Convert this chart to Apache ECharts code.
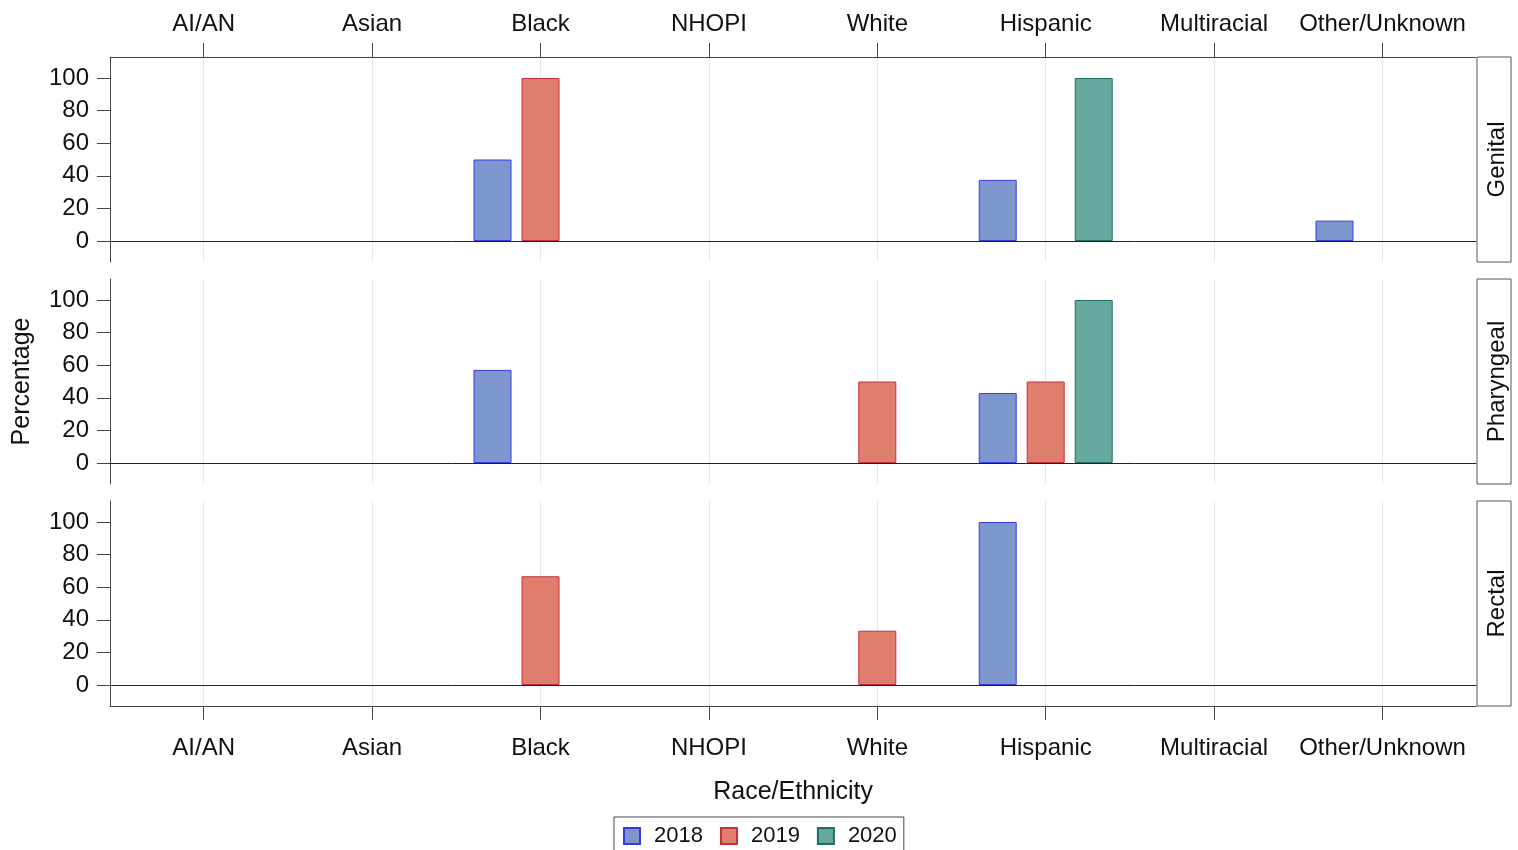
<!DOCTYPE html>
<html>
<head>
<meta charset="utf-8">
<script src="https://cdn.jsdelivr.net/npm/echarts@6/dist/echarts.min.js"></script>
<style>
html,body{margin:0;padding:0;background:#fff;}
#chart{width:1518px;height:850px;}
</style>
</head>
<body>
<div id="chart"></div>
<script>
// ---- data ----
const categories = ['AI/AN','Asian','Black','NHOPI','White','Hispanic','Multiracial','Other/Unknown'];
const years = ['2018','2019','2020'];
const panels = ['Genital','Pharyngeal','Rectal'];
const yTicks = [0,20,40,60,80,100];

const genital2018    = [null,null,50,  null,null,37.5,null,12.5];
const genital2019    = [null,null,100, null,null,null,null,null];
const genital2020    = [null,null,null,null,null,100, null,null];
const pharyngeal2018 = [null,null,57.1,null,null,42.9,null,null];
const pharyngeal2019 = [null,null,null,null,50,  50,  null,null];
const pharyngeal2020 = [null,null,null,null,null,100, null,null];
const rectal2018     = [null,null,null,null,null,100, null,null];
const rectal2019     = [null,null,66.7,null,33.3,null,null,null];
const rectal2020     = [null,null,null,null,null,null,null,null];

const panelData = [
  [genital2018, genital2019, genital2020],
  [pharyngeal2018, pharyngeal2019, pharyngeal2020],
  [rectal2018, rectal2019, rectal2020]
];

// ---- styles ----
const FONT = "'Liberation Sans', Arial, sans-serif";
const fills   = ['#7D96CD','#E07E6E','#66A8A0'];
const borders = ['#3A3ADB','#C0303C','#1E6E62'];
const YMIN = -12.88, YMAX = 112.88;
const panelTop = [57, 279, 501];
const panelH = 205;
const AXIS = '#444';

const grid = [];
const xAxis = [];
const yAxis = [];
const series = [];

// frame grids 0..2
for (let p = 0; p < 3; p++) {
  grid.push({left:110, right:42, top:panelTop[p], height:panelH});
}
// bar grids 3..5
for (let p = 0; p < 3; p++) {
  grid.push({left:119.5, right:51.3, top:panelTop[p], height:panelH});
}
// strip grids 6..8
for (let p = 0; p < 3; p++) {
  grid.push({left:1477, width:34, top:panelTop[p], height:panelH, show:true,
             borderColor:'#555', borderWidth:1, backgroundColor:'#fff'});
}

const hiddenValueX = (gi, pos, onZero, color, zl) => ({
  gridIndex:gi, type:'value', min:0, max:1, position:pos, zlevel:zl, z:10,
  axisLine:{show:true, onZero:onZero, lineStyle:{color:color, width:1}},
  axisTick:{show:false}, axisLabel:{show:false}, splitLine:{show:false}
});

// x axes 0..2 : zero lines (drawn above bars)
for (let p = 0; p < 3; p++) {
  xAxis.push(hiddenValueX(p, p === 2 ? 'top' : 'bottom', true, '#222', 1));
}
// x axis 3 : top border panel 1 ; x axis 4 : bottom border panel 3
xAxis.push(hiddenValueX(0, 'top', false, AXIS, 0));
xAxis.push(hiddenValueX(2, 'bottom', false, AXIS, 0));
// x axes 5..7 : category axes for bars
for (let p = 0; p < 3; p++) {
  const showLab = p !== 1;
  const ax = {
    gridIndex:3+p, type:'category', data:categories,
    position: p === 0 ? 'top' : 'bottom',
    axisLine:{show:showLab, onZero:false, lineStyle:{color:AXIS, width:1}},
    axisTick:{show:showLab, alignWithLabel:true, length:14, lineStyle:{color:AXIS}},
    axisLabel:{show:showLab, interval:0, fontSize:24, fontFamily:FONT, color:'#111',
               margin: p === 0 ? 21 : 30},
    splitLine:{show:false}
  };
  if (p === 2) {
    ax.name = 'Race/Ethnicity';
    ax.nameLocation = 'middle';
    ax.nameGap = 74;
    ax.nameTextStyle = {fontSize:25, fontFamily:FONT, color:'#111'};
  }
  xAxis.push(ax);
}
// x axes 8..10 : strip grids
for (let p = 0; p < 3; p++) {
  xAxis.push({gridIndex:6+p, type:'value', show:false});
}

// y axes 0..2 : frame
for (let p = 0; p < 3; p++) {
  const ax = {
    gridIndex:p, type:'value', min:YMIN, max:YMAX,
    axisLine:{show:true, onZero:false, lineStyle:{color:AXIS, width:1}},
    axisTick:{show:true, length:13, customValues:yTicks, lineStyle:{color:AXIS}},
    axisLabel:{show:true, customValues:yTicks, fontSize:24, fontFamily:FONT, color:'#111', margin:21},
    splitLine:{show:false}
  };
  if (p === 1) {
    ax.name = 'Percentage';
    ax.nameLocation = 'middle';
    ax.nameGap = 75;
    ax.nameRotate = 90;
    ax.nameTextStyle = {fontSize:25, fontFamily:FONT, color:'#111'};
  }
  yAxis.push(ax);
}
// y axes 3..5 : bars
for (let p = 0; p < 3; p++) {
  yAxis.push({gridIndex:3+p, type:'value', min:YMIN, max:YMAX, show:false});
}
// y axes 6..8 : strip labels
for (let p = 0; p < 3; p++) {
  yAxis.push({
    gridIndex:6+p, type:'value', position:'left',
    axisLine:{show:false}, axisTick:{show:false}, axisLabel:{show:false}, splitLine:{show:false},
    name:panels[p], nameLocation:'middle', nameRotate:90, nameGap:-32,
    nameTextStyle:{fontSize:24, fontFamily:FONT, color:'#111'}
  });
}

// series
for (let p = 0; p < 3; p++) {
  // vertical reference lines at category centres (behind the bars)
  series.push({
    type:'line', xAxisIndex:5+p, yAxisIndex:3+p, data:[], z:1, silent:true,
    markLine:{silent:true, z:1, symbol:['none','none'], label:{show:false},
      lineStyle:{color:'#E8E8E8', width:1, type:'solid'},
      emphasis:{disabled:true},
      data: categories.map(c => ({xAxis:c}))}
  });
  for (let s = 0; s < 3; s++) {
    series.push({
      name:years[s], type:'bar', xAxisIndex:5+p, yAxisIndex:3+p,
      data:panelData[p][s], barWidth:38, barGap:'26.3%', z:3,
      itemStyle:{color:fills[s], borderColor:borders[s], borderWidth:1},
      emphasis:{disabled:true}
    });
  }
}

const chart = echarts.init(document.getElementById('chart'), null, {renderer:'canvas'});
chart.setOption({
  animation:false,
  backgroundColor:'#fff',
  grid, xAxis, yAxis, series,
  legend:{
    data:years, left:614, top:817,
    icon:'rect', itemWidth:16, itemHeight:16, itemGap:17,
    padding:[8,7,10,9],
    borderColor:'#444', borderWidth:1,
    textStyle:{fontSize:22, fontFamily:FONT, color:'#111', padding:[0,0,0,9]}
  }
});
</script>
</body>
</html>
